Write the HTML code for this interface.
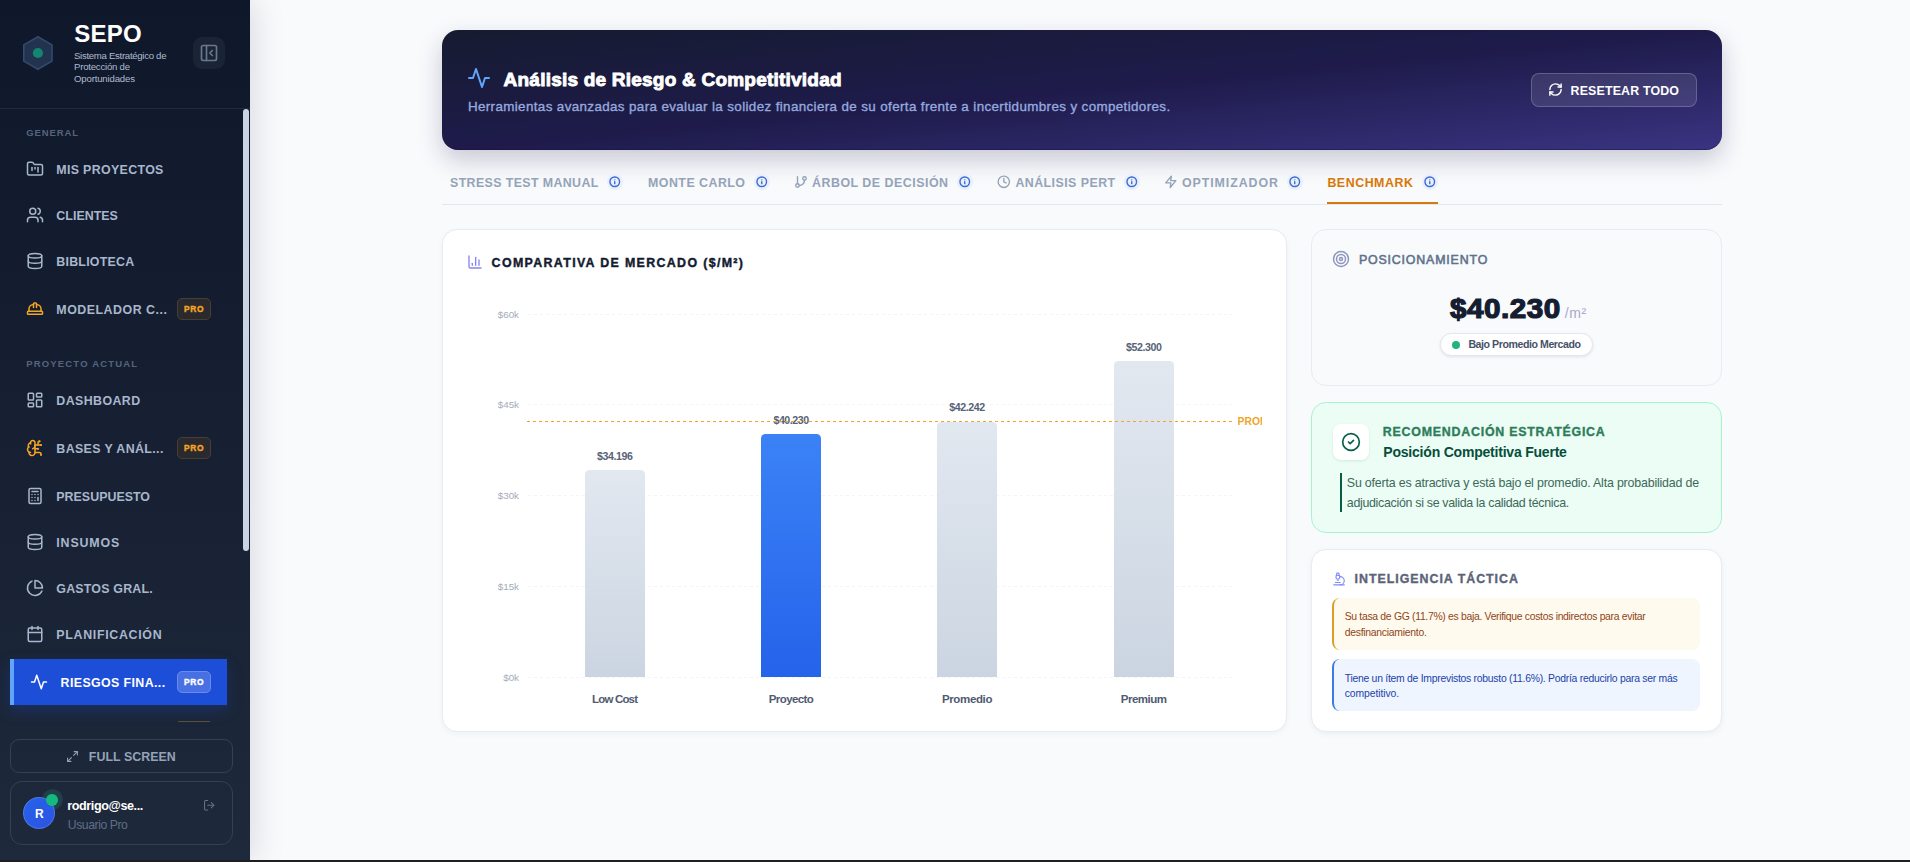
<!DOCTYPE html>
<html lang="es"><head><meta charset="utf-8"><title>SEPO</title><style>
*{margin:0;padding:0;}
html,body{width:1910px;height:862px;overflow:hidden;background:#f8fafc;font-family:"Liberation Sans",sans-serif;}
#root{position:relative;width:1910px;height:862px;overflow:hidden;}
#side{position:absolute;left:0;top:0;width:250px;height:862px;background:linear-gradient(180deg,#0f172a 0%,#1e293b 100%);box-shadow:4px 0 30px rgba(10,10,20,.13);}
.b{position:absolute;}
.ic{position:absolute;overflow:visible;}
.t{position:absolute;white-space:nowrap;}
</style></head><body><div id="root">
<div id="side">
<svg class="ic" style="left:0;top:0" width="80" height="100"><polygon points="37.90,36.70 52.02,44.85 52.02,61.15 37.90,69.30 23.78,61.15 23.78,44.85" fill="#22334f" stroke="#34496b" stroke-width="1.6" stroke-linejoin="round"/><circle cx="37.9" cy="53.0" r="5.1" fill="#148571"/></svg>
<span class="t" id="sepo" style="top:20px;line-height:27px;font-size:24px;font-weight:700;color:#ffffff;letter-spacing:0.266px;left:74.3px;">SEPO</span>
<span class="t" id="sub1" style="top:50px;line-height:11px;font-size:9.6px;font-weight:400;color:#aebbd0;letter-spacing:-0.293px;left:74px;">Sistema Estratégico de</span>
<span class="t" id="sub2" style="top:61px;line-height:11px;font-size:9.6px;font-weight:400;color:#aebbd0;letter-spacing:-0.222px;left:74px;">Protección de</span>
<span class="t" id="sub3" style="top:73px;line-height:11px;font-size:9.6px;font-weight:400;color:#aebbd0;letter-spacing:-0.161px;left:74px;">Oportunidades</span>
<div class="b" style="left:193px;top:37px;width:32px;height:32.4px;border-radius:9px;background:#1b2435;"></div>
<svg class="ic" style="left:199px;top:43px" width="20" height="20" viewBox="0 0 24 24" fill="none" stroke="#69788f" stroke-width="2" stroke-linecap="round" stroke-linejoin="round" ><rect width="18" height="18" x="3" y="3" rx="2"/><path d="M9 3v18"/><path d="m16 15-3-3 3-3"/></svg>
<div class="b" style="left:0px;top:108px;width:250px;height:1px;background:#1f2a40;"></div>
<div class="b" style="left:243px;top:109px;width:6px;height:442px;background:#cbd5e1;border-radius:3px;"></div>
<span class="t" id="gen" style="top:127px;line-height:11px;font-size:9.5px;font-weight:700;color:#55647d;letter-spacing:0.890px;left:26.2px;">GENERAL</span>
<svg class="ic" style="left:26px;top:160px" width="18" height="18" viewBox="0 0 24 24" fill="none" stroke="#a9b7cd" stroke-width="2" stroke-linecap="round" stroke-linejoin="round" ><path d="M4 20h16a2 2 0 0 0 2-2V8a2 2 0 0 0-2-2h-7.93a2 2 0 0 1-1.66-.9l-.82-1.2A2 2 0 0 0 7.93 3H4a2 2 0 0 0-2 2v13c0 1.1.9 2 2 2Z"/><path d="M8 10v4"/><path d="M12 10v2"/><path d="M16 10v6"/></svg>
<span class="t" id="m1" style="top:163px;line-height:14px;font-size:12.4px;font-weight:700;color:#a9b7cd;letter-spacing:0.337px;left:56.3px;">MIS PROYECTOS</span>
<svg class="ic" style="left:26px;top:206px" width="18" height="18" viewBox="0 0 24 24" fill="none" stroke="#a9b7cd" stroke-width="2" stroke-linecap="round" stroke-linejoin="round" ><path d="M16 21v-2a4 4 0 0 0-4-4H6a4 4 0 0 0-4 4v2"/><circle cx="9" cy="7" r="4"/><path d="M22 21v-2a4 4 0 0 0-3-3.87"/><path d="M16 3.13a4 4 0 0 1 0 7.75"/></svg>
<span class="t" id="m2" style="top:209px;line-height:14px;font-size:12.4px;font-weight:700;color:#a9b7cd;letter-spacing:0.046px;left:56.3px;">CLIENTES</span>
<svg class="ic" style="left:26px;top:252px" width="18" height="18" viewBox="0 0 24 24" fill="none" stroke="#a9b7cd" stroke-width="2" stroke-linecap="round" stroke-linejoin="round" ><ellipse cx="12" cy="5" rx="9" ry="3"/><path d="M3 5V19A9 3 0 0 0 21 19V5"/><path d="M3 12A9 3 0 0 0 21 12"/></svg>
<span class="t" id="m3" style="top:255px;line-height:14px;font-size:12.4px;font-weight:700;color:#a9b7cd;letter-spacing:0.242px;left:56.3px;">BIBLIOTECA</span>
<svg class="ic" style="left:26px;top:300px" width="18" height="18" viewBox="0 0 24 24" fill="none" stroke="#f5a524" stroke-width="2" stroke-linecap="round" stroke-linejoin="round" ><path d="M2 18a1 1 0 0 0 1 1h18a1 1 0 0 0 1-1v-2a1 1 0 0 0-1-1H3a1 1 0 0 0-1 1v2z"/><path d="M10 10V5a1 1 0 0 1 1-1h2a1 1 0 0 1 1 1v5"/><path d="M4 15v-3a6 6 0 0 1 6-6"/><path d="M14 6a6 6 0 0 1 6 6v3"/></svg>
<span class="t" id="m4" style="top:303px;line-height:14px;font-size:12.4px;font-weight:700;color:#a9b7cd;letter-spacing:0.511px;left:56.3px;">MODELADOR C...</span>
<div class="b" style="left:177px;top:298px;width:34px;height:22px;border-radius:5px;background:#2a2a2e;border:1px solid #493f30;box-sizing:border-box;"></div><span class="t" id="m4p" style="top:304px;line-height:10px;font-size:8.4px;font-weight:700;color:#f5a524;letter-spacing:0.722px;left:184px;-webkit-text-stroke:.4px #f5a524;">PRO</span>
<svg class="ic" style="left:26px;top:391px" width="18" height="18" viewBox="0 0 24 24" fill="none" stroke="#a9b7cd" stroke-width="2" stroke-linecap="round" stroke-linejoin="round" ><rect width="7" height="9" x="3" y="3" rx="1"/><rect width="7" height="5" x="14" y="3" rx="1"/><rect width="7" height="9" x="14" y="12" rx="1"/><rect width="7" height="5" x="3" y="16" rx="1"/></svg>
<span class="t" id="n1" style="top:394px;line-height:14px;font-size:12.4px;font-weight:700;color:#a9b7cd;letter-spacing:0.419px;left:56.3px;">DASHBOARD</span>
<svg class="ic" style="left:26px;top:439px" width="18" height="18" viewBox="0 0 24 24" fill="none" stroke="#f5a524" stroke-width="2" stroke-linecap="round" stroke-linejoin="round" ><path d="M12 5a3 3 0 1 0-5.997.125 4 4 0 0 0-2.526 5.77 4 4 0 0 0 .556 6.588A4 4 0 1 0 12 18Z"/><path d="M9 13a4.5 4.5 0 0 0 3-4"/><path d="M6.003 5.125A3 3 0 0 0 6.401 6.5"/><path d="M3.477 10.896a4 4 0 0 1 .585-.396"/><path d="M6 18a4 4 0 0 1-1.967-.516"/><path d="M12 13h4"/><path d="M12 18h6a2 2 0 0 1 2 2v1"/><path d="M12 8h8"/><path d="M16 8V5a2 2 0 0 1 2-2"/><circle cx="16" cy="13" r=".5"/><circle cx="18" cy="3" r=".5"/><circle cx="20" cy="21" r=".5"/><circle cx="20" cy="8" r=".5"/></svg>
<span class="t" id="n2" style="top:442px;line-height:14px;font-size:12.4px;font-weight:700;color:#a9b7cd;letter-spacing:0.387px;left:56.3px;">BASES Y ANÁL...</span>
<div class="b" style="left:177px;top:437px;width:34px;height:22px;border-radius:5px;background:#2a2a2e;border:1px solid #493f30;box-sizing:border-box;"></div><span class="t" id="n2p" style="top:443px;line-height:10px;font-size:8.4px;font-weight:700;color:#f5a524;letter-spacing:0.722px;left:184px;-webkit-text-stroke:.4px #f5a524;">PRO</span>
<svg class="ic" style="left:26px;top:487px" width="18" height="18" viewBox="0 0 24 24" fill="none" stroke="#a9b7cd" stroke-width="2" stroke-linecap="round" stroke-linejoin="round" ><rect width="16" height="20" x="4" y="2" rx="2"/><line x1="8" x2="16" y1="6" y2="6"/><line x1="16" x2="16" y1="14" y2="18"/><path d="M16 10h.01"/><path d="M12 10h.01"/><path d="M8 10h.01"/><path d="M12 14h.01"/><path d="M8 14h.01"/><path d="M12 18h.01"/><path d="M8 18h.01"/></svg>
<span class="t" id="n3" style="top:490px;line-height:14px;font-size:12.4px;font-weight:700;color:#a9b7cd;letter-spacing:0.028px;left:56.3px;">PRESUPUESTO</span>
<svg class="ic" style="left:26px;top:533px" width="18" height="18" viewBox="0 0 24 24" fill="none" stroke="#a9b7cd" stroke-width="2" stroke-linecap="round" stroke-linejoin="round" ><ellipse cx="12" cy="5" rx="9" ry="3"/><path d="M3 5V19A9 3 0 0 0 21 19V5"/><path d="M3 12A9 3 0 0 0 21 12"/></svg>
<span class="t" id="n4" style="top:536px;line-height:14px;font-size:12.4px;font-weight:700;color:#a9b7cd;letter-spacing:0.860px;left:56.3px;">INSUMOS</span>
<svg class="ic" style="left:26px;top:579px" width="18" height="18" viewBox="0 0 24 24" fill="none" stroke="#a9b7cd" stroke-width="2" stroke-linecap="round" stroke-linejoin="round" ><path d="M21.21 15.89A10 10 0 1 1 8 2.83"/><path d="M22 12A10 10 0 0 0 12 2v10z"/></svg>
<span class="t" id="n5" style="top:582px;line-height:14px;font-size:12.4px;font-weight:700;color:#a9b7cd;letter-spacing:0.210px;left:56.3px;">GASTOS GRAL.</span>
<svg class="ic" style="left:26px;top:625px" width="18" height="18" viewBox="0 0 24 24" fill="none" stroke="#a9b7cd" stroke-width="2" stroke-linecap="round" stroke-linejoin="round" ><path d="M8 2v4"/><path d="M16 2v4"/><rect width="18" height="18" x="3" y="4" rx="2"/><path d="M3 10h18"/></svg>
<span class="t" id="n6" style="top:628px;line-height:14px;font-size:12.4px;font-weight:700;color:#a9b7cd;letter-spacing:0.686px;left:56.3px;">PLANIFICACIÓN</span>
<span class="t" id="pa" style="top:358px;line-height:11px;font-size:9.5px;font-weight:700;color:#55647d;letter-spacing:1.158px;left:26.3px;">PROYECTO ACTUAL</span>
<div class="b" style="left:10px;top:659px;width:217px;height:46px;background:#1d4ed8;box-shadow:0 6px 14px rgba(29,78,216,.25);"></div>
<div class="b" style="left:10px;top:659px;width:4px;height:46px;background:#60a5fa;"></div>
<svg class="ic" style="left:30px;top:673px" width="18" height="18" viewBox="0 0 24 24" fill="none" stroke="#ffffff" stroke-width="2" stroke-linecap="round" stroke-linejoin="round" ><path d="M22 12h-4l-3 9L9 3l-3 9H2"/></svg>
<span class="t" id="act" style="top:676px;line-height:14px;font-size:12.4px;font-weight:700;color:#ffffff;letter-spacing:0.383px;left:60.6px;">RIESGOS FINA...</span>
<div class="b" style="left:177px;top:671px;width:34px;height:22px;border-radius:5px;background:#4870e2;border:1px solid #668cee;box-sizing:border-box;"></div><span class="t" id="actp" style="top:677px;line-height:10px;font-size:8.4px;font-weight:700;color:#ffffff;letter-spacing:0.722px;left:184px;-webkit-text-stroke:.4px #fff;">PRO</span>
<div class="b" style="left:178px;top:721px;width:32px;height:1px;background:#5a5032;"></div>
<div class="b" style="left:10px;top:739px;width:223px;height:34px;border:1px solid #334155;border-radius:9px;box-sizing:border-box;"></div>
<svg class="ic" style="left:66px;top:749.5px" width="13" height="13" viewBox="0 0 24 24" fill="none" stroke="#94a3b8" stroke-width="2" stroke-linecap="round" stroke-linejoin="round" ><polyline points="15 3 21 3 21 9"/><polyline points="9 21 3 21 3 15"/><line x1="21" x2="14" y1="3" y2="10"/><line x1="3" x2="10" y1="21" y2="14"/></svg>
<span class="t" id="fs" style="top:750px;line-height:14px;font-size:12.4px;font-weight:700;color:#94a3b8;letter-spacing:0.048px;left:88.8px;">FULL SCREEN</span>
<div class="b" style="left:10px;top:781px;width:223px;height:64px;border:1px solid #334155;border-radius:12px;box-sizing:border-box;"></div>
<div class="b" style="left:41.8px;top:789.2px;width:21.2px;height:21.2px;border-radius:50%;background:radial-gradient(circle,#1f424a 55%,#1f3a46 75%,rgba(30,52,66,.5) 100%);"></div>
<div class="b" style="left:23px;top:797px;width:32px;height:32px;border-radius:50%;background:linear-gradient(135deg,#2563eb,#2d52e0);box-shadow:inset 0 0 0 1px rgba(255,255,255,.16);"></div>
<span class="t" id="av" style="top:807px;line-height:14px;font-size:12px;font-weight:700;color:#ffffff;letter-spacing:0.000px;left:39.3px;transform:translateX(-50%);margin-left:0.000px;">R</span>
<div class="b" style="left:46.1px;top:794px;width:11.6px;height:11.6px;border-radius:50%;background:#16b97d;"></div>
<span class="t" id="usr" style="top:799px;line-height:14px;font-size:12.6px;font-weight:700;color:#ffffff;letter-spacing:-0.405px;left:67.3px;">rodrigo@se...</span>
<span class="t" id="usr2" style="top:818px;line-height:14px;font-size:12.2px;font-weight:400;color:#5f6e87;letter-spacing:-0.436px;left:67.8px;">Usuario Pro</span>
<svg class="ic" style="left:203px;top:799px" width="12.5" height="12.5" viewBox="0 0 24 24" fill="none" stroke="#64748b" stroke-width="2" stroke-linecap="round" stroke-linejoin="round" ><path d="M9 21H5a2 2 0 0 1-2-2V5a2 2 0 0 1 2-2h4"/><polyline points="16 17 21 12 16 7"/><line x1="21" x2="9" y1="12" y2="12"/></svg>
</div>
<div class="b" style="left:442px;top:30px;width:1280px;height:120px;border-radius:16px;background:linear-gradient(to bottom right,#161b30 0%,#1e1b4b 50%,#3a3482 100%);box-shadow:0 10px 25px rgba(30,27,75,.22), inset 0 -1px 0 rgba(20,18,60,.45);"></div>
<svg class="ic" style="left:467px;top:66px" width="24" height="24" viewBox="0 0 24 24" fill="none" stroke="#60a5fa" stroke-width="2" stroke-linecap="round" stroke-linejoin="round" ><path d="M22 12h-4l-3 9L9 3l-3 9H2"/></svg>
<span class="t" id="title" style="top:69px;line-height:21px;font-size:19px;font-weight:700;color:#ffffff;letter-spacing:0.222px;left:503.6px;-webkit-text-stroke:.9px #fff;">Análisis de Riesgo &amp; Competitividad</span>
<span class="t" id="subt" style="top:99px;line-height:15px;font-size:13.4px;font-weight:400;color:#97a9df;letter-spacing:0.372px;left:467.9px;-webkit-text-stroke:.35px #97a9df;">Herramientas avanzadas para evaluar la solidez financiera de su oferta frente a incertidumbres y competidores.</span>
<div class="b" style="left:1531px;top:73px;width:166px;height:34px;border-radius:8px;background:rgba(255,255,255,.1);border:1px solid rgba(255,255,255,.2);box-sizing:border-box;"></div>
<svg class="ic" style="left:1547.5px;top:82.4px" width="15" height="15" viewBox="0 0 24 24" fill="none" stroke="#ffffff" stroke-width="2.3" stroke-linecap="round" stroke-linejoin="round" ><path d="M3 12a9 9 0 0 1 9-9 9.75 9.75 0 0 1 6.74 2.74L21 8"/><path d="M21 3v5h-5"/><path d="M21 12a9 9 0 0 1-9 9 9.75 9.75 0 0 1-6.74-2.74L3 16"/><path d="M8 16H3v5"/></svg>
<span class="t" id="reset" style="top:84px;line-height:14px;font-size:12.4px;font-weight:700;color:#ffffff;letter-spacing:0.159px;left:1570.6px;">RESETEAR TODO</span>
<span class="t" id="t1" style="top:176px;line-height:14px;font-size:12.4px;font-weight:700;color:#94a3b8;letter-spacing:0.382px;left:450px;">STRESS TEST MANUAL</span>
<div class="b" style="left:607px;top:174.2px;width:16px;height:16px;border-radius:50%;background:#e8effd;"></div><svg class="ic" style="left:609.25px;top:176.45px" width="11.5" height="11.5" viewBox="0 0 24 24" fill="none" stroke="#3d6bd0" stroke-width="2.9" stroke-linecap="round" stroke-linejoin="round" ><circle cx="12" cy="12" r="10"/><path d="M12 16v-4"/><path d="M12 8h.01"/></svg>
<span class="t" id="t2" style="top:176px;line-height:14px;font-size:12.4px;font-weight:700;color:#94a3b8;letter-spacing:0.475px;left:648px;">MONTE CARLO</span>
<div class="b" style="left:754px;top:174.2px;width:16px;height:16px;border-radius:50%;background:#e8effd;"></div><svg class="ic" style="left:756.25px;top:176.45px" width="11.5" height="11.5" viewBox="0 0 24 24" fill="none" stroke="#3d6bd0" stroke-width="2.9" stroke-linecap="round" stroke-linejoin="round" ><circle cx="12" cy="12" r="10"/><path d="M12 16v-4"/><path d="M12 8h.01"/></svg>
<svg class="ic" style="left:793.8px;top:175.2px" width="14" height="14" viewBox="0 0 24 24" fill="none" stroke="#94a3b8" stroke-width="2.4" stroke-linecap="round" stroke-linejoin="round" ><line x1="6" x2="6" y1="3" y2="15"/><circle cx="18" cy="6" r="3"/><circle cx="6" cy="18" r="3"/><path d="M18 9a9 9 0 0 1-9 9"/></svg>
<span class="t" id="t3" style="top:176px;line-height:14px;font-size:12.4px;font-weight:700;color:#94a3b8;letter-spacing:0.511px;left:812px;">ÁRBOL DE DECISIÓN</span>
<div class="b" style="left:957px;top:174.2px;width:16px;height:16px;border-radius:50%;background:#e8effd;"></div><svg class="ic" style="left:959.25px;top:176.45px" width="11.5" height="11.5" viewBox="0 0 24 24" fill="none" stroke="#3d6bd0" stroke-width="2.9" stroke-linecap="round" stroke-linejoin="round" ><circle cx="12" cy="12" r="10"/><path d="M12 16v-4"/><path d="M12 8h.01"/></svg>
<svg class="ic" style="left:997.1px;top:175.4px" width="13.6" height="13.6" viewBox="0 0 24 24" fill="none" stroke="#94a3b8" stroke-width="2.4" stroke-linecap="round" stroke-linejoin="round" ><circle cx="12" cy="12" r="10"/><polyline points="12 6 12 12 16 14"/></svg>
<span class="t" id="t4" style="top:176px;line-height:14px;font-size:12.4px;font-weight:700;color:#94a3b8;letter-spacing:0.449px;left:1015.4px;">ANÁLISIS PERT</span>
<div class="b" style="left:1123.8px;top:174.2px;width:16px;height:16px;border-radius:50%;background:#e8effd;"></div><svg class="ic" style="left:1126.05px;top:176.45px" width="11.5" height="11.5" viewBox="0 0 24 24" fill="none" stroke="#3d6bd0" stroke-width="2.9" stroke-linecap="round" stroke-linejoin="round" ><circle cx="12" cy="12" r="10"/><path d="M12 16v-4"/><path d="M12 8h.01"/></svg>
<svg class="ic" style="left:1164.2px;top:175.4px" width="13.6" height="13.6" viewBox="0 0 24 24" fill="none" stroke="#94a3b8" stroke-width="2.4" stroke-linecap="round" stroke-linejoin="round" ><polygon points="13 2 3 14 12 14 11 22 21 10 12 10 13 2"/></svg>
<span class="t" id="t5" style="top:176px;line-height:14px;font-size:12.4px;font-weight:700;color:#94a3b8;letter-spacing:0.926px;left:1182px;">OPTIMIZADOR</span>
<div class="b" style="left:1286.8px;top:174.2px;width:16px;height:16px;border-radius:50%;background:#e8effd;"></div><svg class="ic" style="left:1289.05px;top:176.45px" width="11.5" height="11.5" viewBox="0 0 24 24" fill="none" stroke="#3d6bd0" stroke-width="2.9" stroke-linecap="round" stroke-linejoin="round" ><circle cx="12" cy="12" r="10"/><path d="M12 16v-4"/><path d="M12 8h.01"/></svg>
<span class="t" id="t6" style="top:176px;line-height:14px;font-size:12.4px;font-weight:700;color:#d97706;letter-spacing:0.533px;left:1327.4px;">BENCHMARK</span>
<div class="b" style="left:1422px;top:174.2px;width:16px;height:16px;border-radius:50%;background:#e8effd;"></div><svg class="ic" style="left:1424.25px;top:176.45px" width="11.5" height="11.5" viewBox="0 0 24 24" fill="none" stroke="#3d6bd0" stroke-width="2.9" stroke-linecap="round" stroke-linejoin="round" ><circle cx="12" cy="12" r="10"/><path d="M12 16v-4"/><path d="M12 8h.01"/></svg>
<div class="b" style="left:442px;top:204px;width:1280px;height:1px;background:#e3e7ec;"></div>
<div class="b" style="left:1327px;top:202px;width:111px;height:2.2px;background:#d8790e;"></div>
<div class="b" style="left:442px;top:229px;width:845px;height:503px;border-radius:15px;background:#fff;border:1px solid #e8ebf1;box-sizing:border-box;box-shadow:0 2px 6px rgba(15,23,42,.04);"></div>
<svg class="ic" style="left:466.7px;top:253.8px" width="16" height="16" viewBox="0 0 24 24" fill="none" stroke="#8784f0" stroke-width="2" stroke-linecap="round" stroke-linejoin="round" ><path d="M3 3v16a2 2 0 0 0 2 2h16"/><path d="M18 17V9"/><path d="M13 17V5"/><path d="M8 17v-3"/></svg>
<span class="t" id="ct" style="top:256px;line-height:14px;font-size:12.4px;font-weight:700;color:#131b30;letter-spacing:1.349px;left:491.6px;-webkit-text-stroke:.4px #131b30;">COMPARATIVA DE MERCADO ($/M²)</span>
<span class="t" id="y0" style="top:672px;line-height:11px;font-size:9.8px;font-weight:400;color:#a3abba;letter-spacing:0.000px;right:1391px;margin-right:0.000px;">$0k</span>
<svg class="ic" style="left:528px;top:677px" width="704" height="1"><line x1="0" y1="0.5" x2="704" y2="0.5" stroke="#f2f4f7" stroke-width="1" stroke-dasharray="3 3"/></svg>
<span class="t" id="y1" style="top:581px;line-height:11px;font-size:9.8px;font-weight:400;color:#a3abba;letter-spacing:0.000px;right:1391px;margin-right:0.000px;">$15k</span>
<svg class="ic" style="left:528px;top:586px" width="704" height="1"><line x1="0" y1="0.5" x2="704" y2="0.5" stroke="#f2f4f7" stroke-width="1" stroke-dasharray="3 3"/></svg>
<span class="t" id="y2" style="top:490px;line-height:11px;font-size:9.8px;font-weight:400;color:#a3abba;letter-spacing:0.000px;right:1391px;margin-right:0.000px;">$30k</span>
<svg class="ic" style="left:528px;top:495px" width="704" height="1"><line x1="0" y1="0.5" x2="704" y2="0.5" stroke="#f2f4f7" stroke-width="1" stroke-dasharray="3 3"/></svg>
<span class="t" id="y3" style="top:399px;line-height:11px;font-size:9.8px;font-weight:400;color:#a3abba;letter-spacing:0.000px;right:1391px;margin-right:0.000px;">$45k</span>
<svg class="ic" style="left:528px;top:404px" width="704" height="1"><line x1="0" y1="0.5" x2="704" y2="0.5" stroke="#f2f4f7" stroke-width="1" stroke-dasharray="3 3"/></svg>
<span class="t" id="y4" style="top:309px;line-height:11px;font-size:9.8px;font-weight:400;color:#a3abba;letter-spacing:0.000px;right:1391px;margin-right:0.000px;">$60k</span>
<svg class="ic" style="left:528px;top:314px" width="704" height="1"><line x1="0" y1="0.5" x2="704" y2="0.5" stroke="#f2f4f7" stroke-width="1" stroke-dasharray="3 3"/></svg>
<div class="b" style="left:585.0px;top:470.3px;width:60px;height:206.7px;border-radius:4.5px 4.5px 0 0;background:linear-gradient(180deg,#e2e8f0,#cbd5e1);"></div>
<span class="t" id="bv0" style="top:450px;line-height:12px;font-size:10.6px;font-weight:700;color:#566277;letter-spacing:-0.417px;left:615.0px;transform:translateX(-50%);margin-left:-0.208px;">$34.196</span>
<span class="t" id="bx0" style="top:693px;line-height:12px;font-size:11.5px;font-weight:700;color:#505b70;letter-spacing:-0.822px;left:615.0px;transform:translateX(-50%);margin-left:-0.411px;">Low Cost</span>
<div class="b" style="left:761.3px;top:433.8px;width:60px;height:243.2px;border-radius:4.5px 4.5px 0 0;background:linear-gradient(180deg,#3b82f6,#2563eb);"></div>
<span class="t" id="bv1" style="top:414px;line-height:12px;font-size:10.6px;font-weight:700;color:#566277;letter-spacing:-0.417px;left:791.3px;transform:translateX(-50%);margin-left:-0.208px;">$40.230</span>
<span class="t" id="bx1" style="top:693px;line-height:12px;font-size:11.5px;font-weight:700;color:#505b70;letter-spacing:-0.603px;left:791.3px;transform:translateX(-50%);margin-left:-0.301px;">Proyecto</span>
<div class="b" style="left:937.2px;top:421.6px;width:60px;height:255.4px;border-radius:4.5px 4.5px 0 0;background:linear-gradient(180deg,#e2e8f0,#cbd5e1);"></div>
<span class="t" id="bv2" style="top:401px;line-height:12px;font-size:10.6px;font-weight:700;color:#566277;letter-spacing:-0.417px;left:967.2px;transform:translateX(-50%);margin-left:-0.208px;">$42.242</span>
<span class="t" id="bx2" style="top:693px;line-height:12px;font-size:11.5px;font-weight:700;color:#505b70;letter-spacing:-0.350px;left:967.2px;transform:translateX(-50%);margin-left:-0.175px;">Promedio</span>
<div class="b" style="left:1113.9px;top:360.8px;width:60px;height:316.2px;border-radius:4.5px 4.5px 0 0;background:linear-gradient(180deg,#e2e8f0,#cbd5e1);"></div>
<span class="t" id="bv3" style="top:341px;line-height:12px;font-size:10.6px;font-weight:700;color:#566277;letter-spacing:-0.417px;left:1143.9px;transform:translateX(-50%);margin-left:-0.208px;">$52.300</span>
<span class="t" id="bx3" style="top:693px;line-height:12px;font-size:11.5px;font-weight:700;color:#505b70;letter-spacing:-0.471px;left:1143.9px;transform:translateX(-50%);margin-left:-0.235px;">Premium</span>
<svg class="ic" style="left:527px;top:421px" width="705" height="1"><line x1="0" y1="0.5" x2="705" y2="0.5" stroke="#f0a52a" stroke-width="1" stroke-dasharray="3 3"/></svg>
<div class="b" style="left:1237.6px;top:412px;width:24.2px;height:16px;overflow:hidden;"><span class="t" id="prom" style="top:4px;line-height:11px;font-size:10.3px;font-weight:700;color:#f0a528;letter-spacing:0.000px;left:0px;">PROMEDIO</span></div>
<div class="b" style="left:1311px;top:229px;width:411px;height:157px;border-radius:15px;background:#f8fafc;border:1px solid #e8ebf1;box-sizing:border-box;"></div>
<svg class="ic" style="left:1332px;top:250px" width="18" height="18" viewBox="0 0 24 24" fill="none" stroke="#8f96be" stroke-width="2" stroke-linecap="round" stroke-linejoin="round" ><circle cx="12" cy="12" r="10"/><circle cx="12" cy="12" r="6"/><circle cx="12" cy="12" r="2"/></svg>
<span class="t" id="pos" style="top:253px;line-height:14px;font-size:12.4px;font-weight:400;color:#5f728b;letter-spacing:0.828px;left:1358.9px;-webkit-text-stroke:.55px #5f728b;">POSICIONAMIENTO</span>
<span class="t" id="big" style="top:293px;line-height:31px;font-size:27.2px;font-weight:700;color:#151d31;letter-spacing:0.493px;left:1449.7px;-webkit-text-stroke:1.2px #151d31;transform:scaleX(1.09);transform-origin:0 0;">$40.230</span>
<span class="t" id="m2u" style="top:305px;line-height:16px;font-size:14px;font-weight:400;color:#a5aacd;letter-spacing:0.641px;left:1564.7px;">/m²</span>
<div class="b" style="left:1439.7px;top:332.7px;width:153.6px;height:23.8px;border-radius:12px;background:#fff;border:1px solid #e2e8f0;box-sizing:border-box;box-shadow:0 1px 3px rgba(15,23,42,.1);"></div>
<div class="b" style="left:1452px;top:341.2px;width:8px;height:8px;border-radius:50%;background:#22b47d;"></div>
<span class="t" id="bajo" style="top:338px;line-height:12px;font-size:10.6px;font-weight:700;color:#465269;letter-spacing:-0.434px;left:1468.4px;">Bajo Promedio Mercado</span>
<div class="b" style="left:1311px;top:402px;width:411px;height:131px;border-radius:15px;background:#ecfdf5;border:1px solid #a7f3d0;box-sizing:border-box;"></div>
<div class="b" style="left:1333px;top:423.7px;width:36px;height:36px;border-radius:8px;background:#fff;box-shadow:0 1px 3px rgba(6,95,70,.12);"></div>
<svg class="ic" style="left:1341.1px;top:431.8px" width="20" height="20" viewBox="0 0 24 24" fill="none" stroke="#065f46" stroke-width="2" stroke-linecap="round" stroke-linejoin="round" ><circle cx="12" cy="12" r="10"/><path d="m9 12 2 2 4-4"/></svg>
<span class="t" id="rec" style="top:425px;line-height:14px;font-size:12.4px;font-weight:700;color:#2d7d5a;letter-spacing:0.769px;left:1382.8px;-webkit-text-stroke:.35px #2d7d5a;">RECOMENDACIÓN ESTRATÉGICA</span>
<span class="t" id="pcf" style="top:444px;line-height:16px;font-size:14px;font-weight:700;color:#064e3b;letter-spacing:-0.209px;left:1383.3px;">Posición Competitiva Fuerte</span>
<div class="b" style="left:1340px;top:472.8px;width:2px;height:39.2px;background:#065f46;"></div>
<span class="t" id="p1" style="top:476px;line-height:14px;font-size:12.4px;font-weight:400;color:#3c695a;letter-spacing:-0.180px;left:1346.8px;">Su oferta es atractiva y está bajo el promedio. Alta probabilidad de</span>
<span class="t" id="p2" style="top:496px;line-height:14px;font-size:12.4px;font-weight:400;color:#3c695a;letter-spacing:-0.299px;left:1346.8px;">adjudicación si se valida la calidad técnica.</span>
<div class="b" style="left:1311px;top:549px;width:411px;height:183px;border-radius:15px;background:#fff;border:1px solid #e8ebf1;box-sizing:border-box;box-shadow:0 2px 6px rgba(15,23,42,.05);"></div>
<svg class="ic" style="left:1332.3px;top:571.5px" width="14" height="14" viewBox="0 0 24 24" fill="none" stroke="#818cf8" stroke-width="2" stroke-linecap="round" stroke-linejoin="round" ><path d="M6 18h8"/><path d="M3 22h18"/><path d="M14 22a7 7 0 1 0 0-14h-1"/><path d="M9 14h2"/><path d="M9 12a2 2 0 0 1-2-2V6h6v4a2 2 0 0 1-2 2Z"/><path d="M12 6V3a1 1 0 0 0-1-1H9a1 1 0 0 0-1 1v3"/></svg>
<span class="t" id="it" style="top:572px;line-height:14px;font-size:12.4px;font-weight:700;color:#5a6478;letter-spacing:0.975px;left:1354.6px;-webkit-text-stroke:.35px #5a6478;">INTELIGENCIA TÁCTICA</span>
<div class="b" style="left:1332px;top:598.1px;width:368.3px;height:52.4px;border-radius:8px;background:#fffaee;border-left:2px solid #e19b28;box-sizing:border-box;"></div>
<span class="t" id="a1" style="top:611px;line-height:11px;font-size:10.4px;font-weight:400;color:#8f451a;letter-spacing:-0.306px;left:1344.7px;">Su tasa de GG (11.7%) es baja. Verifique costos indirectos para evitar</span>
<span class="t" id="a2" style="top:627px;line-height:11px;font-size:10.4px;font-weight:400;color:#8f451a;letter-spacing:-0.268px;left:1344.7px;">desfinanciamiento.</span>
<div class="b" style="left:1332px;top:658.8px;width:368.3px;height:52px;border-radius:8px;background:#eef5ff;border-left:2px solid #3b7be6;box-sizing:border-box;"></div>
<span class="t" id="b1" style="top:673px;line-height:11px;font-size:10.4px;font-weight:400;color:#2441a8;letter-spacing:-0.261px;left:1344.7px;">Tiene un ítem de Imprevistos robusto (11.6%). Podría reducirlo para ser más</span>
<span class="t" id="b2" style="top:688px;line-height:11px;font-size:10.4px;font-weight:400;color:#2441a8;letter-spacing:-0.086px;left:1344.7px;">competitivo.</span>
<div class="b" style="left:0px;top:860px;width:1910px;height:2px;background:#1f1f1f;z-index:50;"></div>
</div></body></html>
